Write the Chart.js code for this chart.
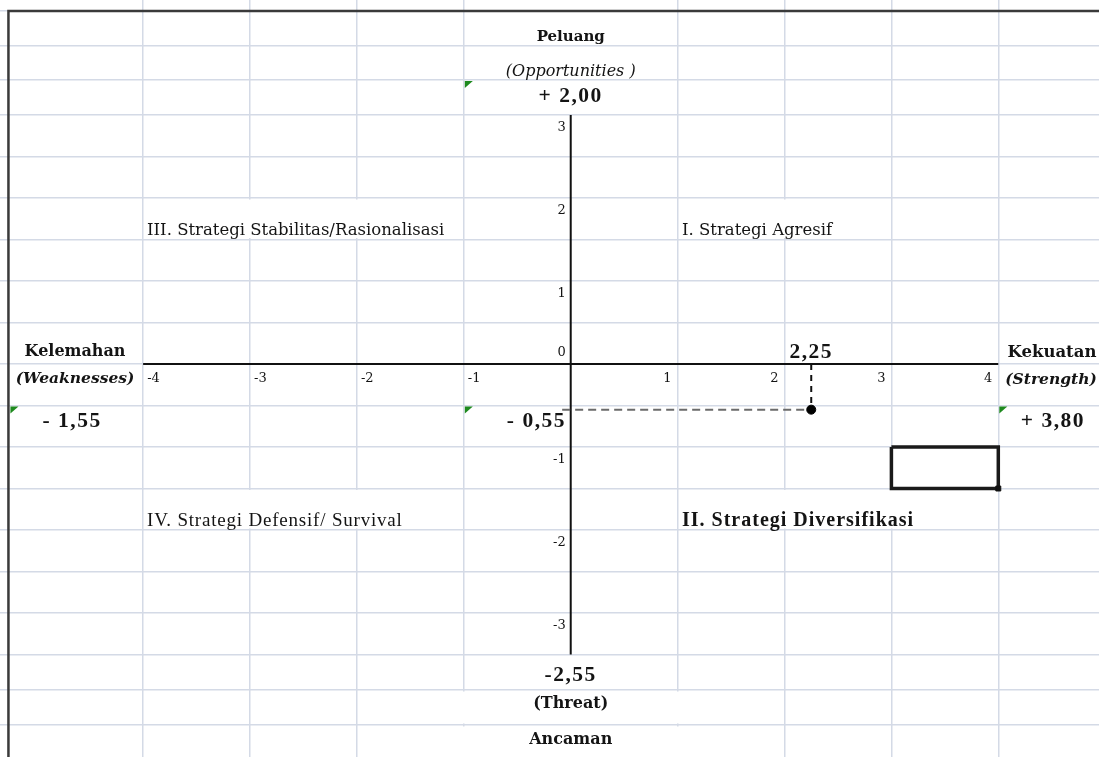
<!DOCTYPE html>
<html>
<head>
<meta charset="utf-8">
<script src="https://cdn.jsdelivr.net/npm/chart.js@4.4.0/dist/chart.umd.min.js"></script>
<style>
  html, body { margin: 0; padding: 0; background: #fff; }
  #wrap { width: 1099px; height: 757px; position: relative; }
</style>
</head>
<body>
<div id="wrap"><canvas id="swot"></canvas></div>
<script>
// total scores of the IFE / EFE matrices
var strengthScore = 3.80;
var weaknessScore = -1.55;
var opportunityScore = 2.00;
var threatScore = -2.55;
// x = S + W, y = O + T
var position = { x: 2.25, y: -0.55 };

var xTickValues = [-4, -3, -2, -1, 1, 2, 3, 4];
var yTickValues = [3, 2, 1, 0, -1, -2, -3];

// sheet cell borders (axis units)
var colLines = [-4, -3, -2, -1, 0, 1, 2, 3, 4];
var rowLines = [4.253, 3.831, 3.422, 3, 2.5, 2, 1.5, 1, 0.5, 0, -0.5, -1, -1.5, -2, -2.5, -3, -3.5, -3.928, -4.349];

var gridColor = '#d4dae6';
var serifWide = 'DejaVu Serif';
var serifTimes = 'Liberation Serif';
var numFont = 'bold 21.5px ' + serifTimes;

function fmt(v) { return Math.abs(v).toFixed(2).replace('.', ','); }

function px(chart, x, y) {
  return [chart.scales.x.getPixelForValue(x), chart.scales.y.getPixelForValue(y)];
}

function put(ctx, s, x, y, font, align, spacing) {
  ctx.font = font;
  ctx.textAlign = align || 'center';
  ctx.textBaseline = 'middle';
  ctx.fillStyle = '#141414';
  ctx.letterSpacing = (spacing || 0) + 'px';
  ctx.fillText(s, x, y);
  ctx.letterSpacing = '0px';
}

// text overflowing its cell hides the inner cell borders
var blankCells = [
  [-4, -1, 2, 1.5], [1, 3, 2, 1.5],
  [-4, -1, -1.5, -2], [1, 4, -1.5, -2],
  [-1.9, 1.9, -3.928, -4.349], [-1.9, 1.9, -4.349, -4.9]
];
var flagCells = [[-1, 3.422], [-5.26, -0.5], [-1, -0.5], [4, -0.5]];

var sheetText = {
  id: 'sheetText',
  beforeDatasetsDraw: function (chart) {
    var ctx = chart.ctx;
    ctx.save();
    ctx.fillStyle = '#fff';
    blankCells.forEach(function (c) {
      var a = px(chart, c[0], c[2]), b = px(chart, c[1], c[3]);
      ctx.fillRect(a[0] + 1.5, a[1] + 1.5, b[0] - a[0] - 3, b[1] - a[1] - 3);
    });
    ctx.restore();
  },
  afterDatasetsDraw: function (chart) {
    var ctx = chart.ctx;
    var sx = chart.scales.x, sy = chart.scales.y;
    ctx.save();
    var y0 = sy.getPixelForValue(0), x0 = sx.getPixelForValue(0);
    // axis numbers
    xTickValues.forEach(function (v) {
      var p = sx.getPixelForValue(v);
      if (v < 0) put(ctx, String(v), p + 4, y0 + 15, '13px ' + serifWide, 'left');
      else put(ctx, String(v), p - 6, y0 + 15, '13px ' + serifWide, 'right');
    });
    yTickValues.forEach(function (v) {
      var p = sy.getPixelForValue(v);
      put(ctx, String(v), x0 - 5, v === 0 ? p - 11 : p + 13, '13px ' + serifWide, 'right');
    });

    var t;
    t = px(chart, 0, 3.94);     put(ctx, 'Peluang', t[0], t[1], 'bold 15px ' + serifWide);
    t = px(chart, 0, 3.518);    put(ctx, '(Opportunities )', t[0], t[1], 'italic 16px ' + serifWide);
    t = px(chart, 0, 3.229);    put(ctx, '+ ' + fmt(opportunityScore), t[0], t[1], numFont, 'center', 1.5);

    t = px(chart, -4.637, 0.145);  put(ctx, 'Kelemahan', t[0], t[1], 'bold 16px ' + serifWide);
    t = px(chart, -4.637, -0.181); put(ctx, '(Weaknesses)', t[0], t[1], 'bold italic 15.5px ' + serifWide);
    t = px(chart, -4.665, -0.687); put(ctx, '- ' + fmt(weaknessScore), t[0], t[1], numFont, 'center', 1.5);

    t = px(chart, 4.502, 0.133);   put(ctx, 'Kekuatan', t[0], t[1], 'bold 16.5px ' + serifWide);
    t = px(chart, 4.493, -0.193);  put(ctx, '(Strength)', t[0], t[1], 'bold italic 15.5px ' + serifWide);
    t = px(chart, 4.511, -0.687);  put(ctx, '+ ' + fmt(strengthScore), t[0], t[1], numFont, 'center', 1.5);

    t = px(chart, position.x, 0.145); put(ctx, fmt(position.x), t[0], t[1], numFont, 'center', 1.5);
    t = px(chart, -0.044, -0.687);    put(ctx, '- ' + fmt(position.y), t[0], t[1], numFont, 'right', 1.5);

    t = px(chart, -3.963, 1.602);  put(ctx, 'III. Strategi Stabilitas/Rasionalisasi', t[0], t[1], '16.5px ' + serifWide, 'left');
    t = px(chart, 1.041, 1.602);   put(ctx, 'I. Strategi Agresif', t[0], t[1], '16.5px ' + serifWide, 'left');
    t = px(chart, -3.963, -1.892); put(ctx, 'IV. Strategi Defensif/ Survival', t[0], t[1], '19px ' + serifTimes, 'left', 0.8);
    t = px(chart, 1.041, -1.892);  put(ctx, 'II. Strategi Diversifikasi', t[0], t[1], 'bold 20px ' + serifTimes, 'left', 1);

    t = px(chart, 0, -3.747);  put(ctx, '-' + fmt(threatScore), t[0], t[1], numFont, 'center', 1.5);
    t = px(chart, 0, -4.096);  put(ctx, '(Threat)', t[0], t[1], 'bold 16px ' + serifWide);
    t = px(chart, 0, -4.53);   put(ctx, 'Ancaman', t[0], t[1], 'bold 16px ' + serifWide);

    // green "number stored as text" flags
    ctx.fillStyle = '#1e8a1e';
    flagCells.forEach(function (c) {
      var p = px(chart, c[0], c[1]);
      var l = p[0] + (c[0] < -5 ? 2 : 1), tp = p[1] + 1;
      ctx.beginPath();
      ctx.moveTo(l, tp); ctx.lineTo(l + 8, tp); ctx.lineTo(l, tp + 7);
      ctx.closePath(); ctx.fill();
    });
    ctx.restore();
  }
};

function gridFor(lines) {
  return function (axis) { axis.ticks = lines.map(function (v) { return { value: v }; }); };
}

new Chart(document.getElementById('swot'), {
  type: 'scatter',
  data: {
    datasets: [
      { data: [position], pointRadius: 4.5, backgroundColor: '#000', borderColor: '#000' },
      { data: [{ x: 4, y: -1.5 }], pointStyle: 'rect', pointRadius: 3.5, backgroundColor: '#111', borderColor: '#111' },
      { data: [{ x: -0.08, y: position.y }, { x: position.x, y: position.y }], showLine: true, pointRadius: 0,
        borderColor: '#6b6b6b', borderWidth: 2, borderDash: [8, 5] },
      { data: [{ x: position.x, y: 0 }, { x: position.x, y: position.y }], showLine: true, pointRadius: 0,
        borderColor: '#111', borderWidth: 2, borderDash: [6, 5] },
      { data: [{ x: -4, y: 0 }, { x: 4, y: 0 }], showLine: true, pointRadius: 0, borderColor: '#111', borderWidth: 2 },
      { data: [{ x: 0, y: 3 }, { x: 0, y: -3.5 }], showLine: true, pointRadius: 0, borderColor: '#111', borderWidth: 2 },
      { data: [{ x: 3, y: -1 }, { x: 4, y: -1 }, { x: 4, y: -1.5 }, { x: 3, y: -1.5 }, { x: 3, y: -1 }],
        showLine: true, pointRadius: 0, borderColor: '#1a1a1a', borderWidth: 3.5 },
      { data: [{ x: -5.26, y: -4.9 }, { x: -5.26, y: 4.253 }, { x: 5, y: 4.253 }], showLine: true, pointRadius: 0,
        borderColor: '#3a3a3a', borderWidth: 2.5 }
    ]
  },
  options: {
    responsive: true,
    maintainAspectRatio: false,
    animation: false,
    layout: { padding: 0, autoPadding: false },
    plugins: { legend: { display: false }, tooltip: { enabled: false }, title: { display: false } },
    scales: {
      x: {
        type: 'linear', min: -5.339, max: 4.942,
        afterBuildTicks: gridFor(colLines),
        ticks: { display: false },
        border: { display: false },
        grid: {
          drawTicks: false, lineWidth: 1.5,
          color: function (c) { return c.tick && c.tick.value === 0 ? 'rgba(0,0,0,0)' : gridColor; }
        }
      },
      y: {
        type: 'linear', min: -4.735, max: 4.386,
        afterBuildTicks: gridFor(rowLines),
        ticks: { display: false },
        border: { display: false },
        grid: { drawTicks: false, lineWidth: 1.5, color: gridColor }
      }
    }
  },
  plugins: [sheetText]
});
</script>
</body>
</html>
